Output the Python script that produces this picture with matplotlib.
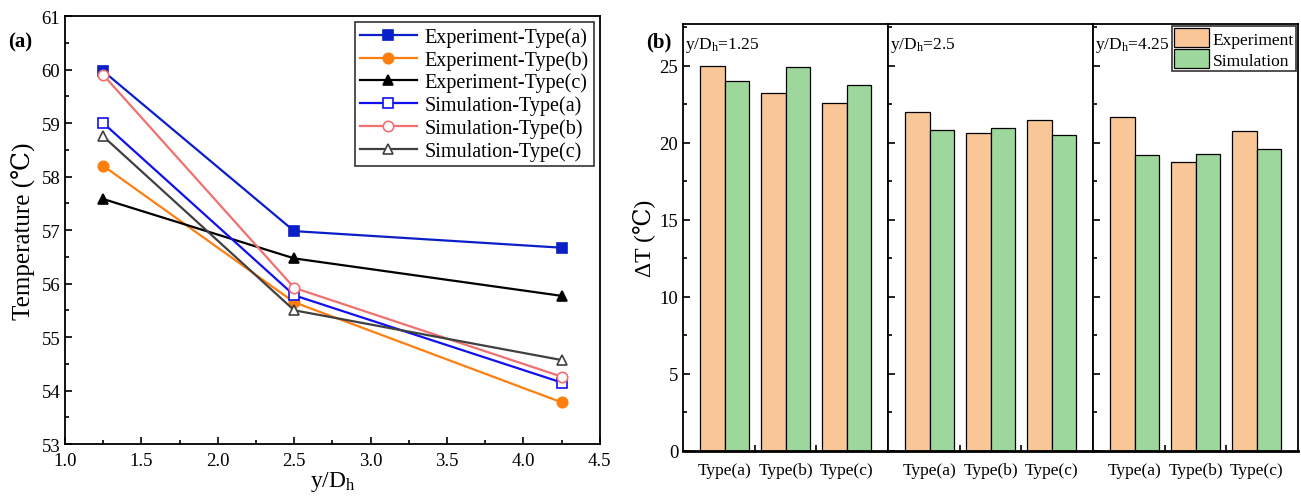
import numpy as np
import matplotlib.pyplot as plt
from matplotlib.ticker import MultipleLocator

plt.rcParams['font.family'] = ['Liberation Serif', 'DejaVu Serif', 'DejaVu Sans']
plt.rcParams['mathtext.fontset'] = 'custom'
plt.rcParams['mathtext.rm'] = 'Liberation Serif'
plt.rcParams['mathtext.it'] = 'Liberation Serif'

# (a) temperature along the channel
positions = [1.25, 2.5, 4.25]
exp_a = [59.97, 56.98, 56.67]
exp_b = [58.20, 55.65, 53.78]
exp_c = [57.58, 56.47, 55.77]
sim_a = [59.00, 55.78, 54.15]
sim_b = [59.90, 55.92, 54.26]
sim_c = [58.75, 55.50, 54.57]

# (b) temperature rise per section
sections = ['1.25', '2.5', '4.25']
types = ['Type(a)', 'Type(b)', 'Type(c)']
dT_exp = [[24.97, 23.20, 22.60],
          [22.00, 20.63, 21.47],
          [21.67, 18.77, 20.77]]
dT_sim = [[24.00, 24.90, 23.75],
          [20.80, 20.93, 20.47],
          [19.20, 19.27, 19.58]]

fig = plt.figure(figsize=(13.01, 5.02), dpi=100)

# ---- panel (a)
ax = fig.add_axes([0.050, 0.1135, 0.411, 0.8525])
series = [
    (exp_a, 'Experiment-Type(a)', '#0A1FC8', 's', '#0A1FC8'),
    (exp_b, 'Experiment-Type(b)', '#FF7F0E', 'o', '#FF7F0E'),
    (exp_c, 'Experiment-Type(c)', '#000000', '^', '#000000'),
    (sim_a, 'Simulation-Type(a)', '#1010F0', 's', 'white'),
    (sim_b, 'Simulation-Type(b)', '#F07070', 'o', 'white'),
    (sim_c, 'Simulation-Type(c)', '#404040', '^', 'white'),
]
for vals, lab, col, mk, fc in series:
    ax.plot(positions, vals, color=col, marker=mk, markerfacecolor=fc,
            markeredgecolor=col, markersize=7.5, markeredgewidth=1.2,
            linewidth=1.6, label=lab)
ax.set_xlim(1.0, 4.5)
ax.set_ylim(53, 61)
ax.xaxis.set_major_locator(MultipleLocator(0.5))
ax.xaxis.set_minor_locator(MultipleLocator(0.25))
ax.yaxis.set_major_locator(MultipleLocator(1))
ax.yaxis.set_minor_locator(MultipleLocator(0.5))
ax.tick_params(which='both', direction='in', labelsize=13.5, width=1.2)
ax.tick_params(which='major', length=5)
ax.tick_params(which='minor', length=3)
ax.tick_params(axis='x', pad=6)
for s in ax.spines.values():
    s.set_linewidth(1.3)
ax.set_xlabel('y/D$_\\mathrm{h}$', fontsize=17, labelpad=0)
ax.set_ylabel('Temperature (\u2103)', fontsize=18, labelpad=4)
leg = ax.legend(loc='upper right', fontsize=14.5, frameon=True, fancybox=False,
                edgecolor='black', borderaxespad=0.3, handlelength=2.8,
                labelspacing=0.15, borderpad=0.25, handletextpad=0.4)
leg.get_frame().set_linewidth(1.2)
fig.text(0.006, 0.905, '(a)', fontsize=15, fontweight='bold')

# ---- panel (b): three sections side by side
left, width, bottom, height = 0.525, 0.4727, 0.100, 0.850
w = width / 3
c_exp = '#F9C797'
c_sim = '#9DD79B'
bw = 0.4
xs = np.arange(3)
axes_b = []
for i, sec in enumerate(sections):
    axb = fig.add_axes([left + i * w, bottom, w, height])
    axes_b.append(axb)
    axb.bar(xs - bw / 2, dT_exp[i], width=bw, color=c_exp, edgecolor='black',
            linewidth=0.9, label='Experiment')
    axb.bar(xs + bw / 2, dT_sim[i], width=bw, color=c_sim, edgecolor='black',
            linewidth=0.9, label='Simulation')
    axb.set_xlim(-0.68, 2.68)
    axb.set_ylim(0, 27.7)
    axb.set_xticks(xs)
    axb.set_xticklabels(types, fontsize=12.5)
    axb.set_xticks([0.5, 1.5], minor=True)
    axb.yaxis.set_major_locator(MultipleLocator(5))
    axb.yaxis.set_minor_locator(MultipleLocator(2.5))
    axb.tick_params(axis='x', which='major', length=0, pad=8)
    axb.tick_params(axis='x', which='minor', direction='in', length=4, width=1.2)
    axb.tick_params(axis='y', which='both', direction='in', width=1.2,
                    labelsize=13.5)
    axb.tick_params(axis='y', which='major', length=5)
    axb.tick_params(axis='y', which='minor', length=3)
    for s in axb.spines.values():
        s.set_linewidth(1.3)
    axb.spines['bottom'].set_linewidth(2.0)
    if i > 0:
        axb.tick_params(axis='y', labelleft=False)
    axb.text(0.012, 0.975, 'y/D$_\\mathrm{h}$=' + sec, transform=axb.transAxes,
             fontsize=12.5, ha='left', va='top')

axes_b[0].set_ylabel('\u0394T (\u2103)', fontsize=17, labelpad=3)
legb = axes_b[2].legend(loc='upper right', fontsize=12.5, frameon=True,
                        fancybox=False, edgecolor='black', borderaxespad=0.1,
                        handlelength=2.0, handleheight=1.3, labelspacing=0.1,
                        borderpad=0.15, handletextpad=0.2)
legb.get_frame().set_linewidth(1.2)
fig.text(0.497, 0.905, '(b)', fontsize=15, fontweight='bold')

fig.savefig('out.png', dpi=100)
